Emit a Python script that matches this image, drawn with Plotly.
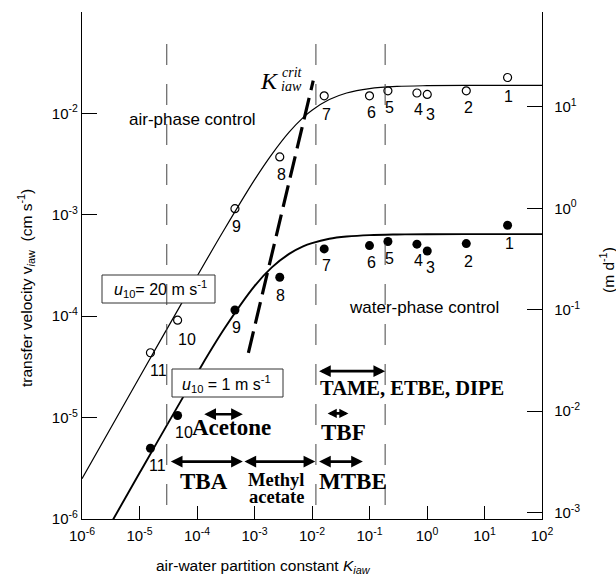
import numpy as np
import plotly.graph_objects as go

# ---------------- data ----------------
compound_ids = ["1", "2", "3", "4", "5", "6", "7", "8", "9", "10", "11"]
k_iaw = [25.2, 4.82, 1.01, 0.668, 0.209, 0.100, 0.0163, 2.75e-3, 4.57e-4, 4.6e-5, 1.55e-5]
v_u20 = [2.26e-2, 1.67e-2, 1.54e-2, 1.59e-2, 1.67e-2, 1.49e-2, 1.49e-2, 3.72e-3, 1.15e-3, 9.14e-5, 4.36e-5]
v_u1 = [7.88e-4, 5.2e-4, 4.4e-4, 5.13e-4, 5.45e-4, 4.97e-4, 4.61e-4, 2.42e-4, 1.15e-4, 1.05e-5, 4.98e-6]

# transfer-velocity curves (two-resistance model), sampled along K_iaw
curve_k = [1e-6, 1e-5, 1e-4, 3e-4, 1e-3, 2e-3, 4e-3, 7e-3, 1e-2, 2e-2, 4e-2, 1e-1, 3e-1, 1.0, 10.0, 100.0]
curve_u20 = [2.5e-6, 2.5e-5, 2.47e-4, 7.2e-4, 2.21e-3, 3.95e-3, 6.54e-3, 9.09e-3, 1.076e-2,
             1.37e-2, 1.59e-2, 1.757e-2, 1.844e-2, 1.876e-2, 1.889e-2, 1.89e-2]
curve_k_u1 = [3e-6, 1e-5, 1e-4, 3e-4, 1e-3, 2e-3, 4e-3, 7e-3, 1e-2, 2e-2, 4e-2, 1e-1, 3e-1, 1.0, 10.0, 100.0]
curve_u1 = [8.54e-7, 2.84e-6, 2.73e-5, 7.55e-5, 1.98e-4, 3.03e-4, 4.12e-4, 4.88e-4, 5.26e-4,
            5.8e-4, 6.1e-4, 6.31e-4, 6.40e-4, 6.44e-4, 6.45e-4, 6.45e-4]

# critical partition constant line
kcrit_k = [7.83e-4, 1.05e-2]
kcrit_v = [4.36e-5, 2.1e-2]

# boundaries between K_iaw classes
class_bounds = [2.98e-5, 1.17e-2, 0.187]

# compound ranges: (label, K from, K to, v level)
ranges = [
    ("Acetone", 1.26e-4, 6.27e-4, 1.08e-5),
    ("TBA", 3.3e-5, 6.27e-4, 3.68e-6),
    ("Methyl acetate", 6.3e-4, 1.14e-2, 3.68e-6),
    ("MTBE", 1.25e-2, 7.67e-2, 3.68e-6),
    ("TBF", 1.76e-2, 4.3e-2, 1.1e-5),
    ("TAME, ETBE, DIPE", 1.25e-2, 0.187, 2.87e-5),
]

x_ticks = [1e-6, 1e-5, 1e-4, 1e-3, 1e-2, 1e-1, 1, 10, 100]
x_ticktext = ["10<sup>-6</sup>", "10<sup>-5</sup>", "10<sup>-4</sup>", "10<sup>-3</sup>",
              "10<sup>-2</sup>", "10<sup>-1</sup>", "10<sup>0</sup>", "10<sup>1</sup>", "10<sup>2</sup>"]
y_ticks = [1e-6, 1e-5, 1e-4, 1e-3, 1e-2, 1e-1]
y_ticktext = ["10<sup>-6</sup>", "10<sup>-5</sup>", "10<sup>-4</sup>", "10<sup>-3</sup>", "10<sup>-2</sup>", " "]
y2_ticks = [1e-3, 1e-2, 1e-1, 1, 10]
y2_ticktext = ["10<sup>-3</sup>", "10<sup>-2</sup>", "10<sup>-1</sup>", "10<sup>0</sup>", "10<sup>1</sup>"]

CM_S_TO_M_D = 864.0

# ---------------- layout geometry ----------------
W, H = 616, 580
L, R, T, B = 82, 74, 12, 61
PW, PH = W - L - R, H - T - B

def paper(xp, yp):
    return (xp - L) / PW, (H - B - yp) / PH

SANS = "Liberation Sans, Arial, Helvetica, sans-serif"
SERIF = "Liberation Serif, Times New Roman, serif"

fig = go.Figure()

fig.add_trace(go.Scatter(x=curve_k, y=curve_u20, mode="lines", line=dict(color="black", width=1.2),
                         line_shape="spline", hoverinfo="skip", showlegend=False))
fig.add_trace(go.Scatter(x=curve_k_u1, y=curve_u1, mode="lines", line=dict(color="black", width=1.9),
                         line_shape="spline", hoverinfo="skip", showlegend=False))
fig.add_trace(go.Scatter(x=kcrit_k, y=kcrit_v, mode="lines",
                         line=dict(color="black", width=3.2, dash="22px,8px"),
                         hoverinfo="skip", showlegend=False))
fig.add_trace(go.Scatter(x=k_iaw, y=v_u20, mode="markers",
                         marker=dict(symbol="circle-open", size=8, color="black", line=dict(width=1.2)),
                         showlegend=False))
fig.add_trace(go.Scatter(x=k_iaw, y=v_u1, mode="markers",
                         marker=dict(symbol="circle", size=9, color="black"),
                         showlegend=False))
# the u10 = 20 m/s curve expressed in m/d, carried on the right-hand axis (drawn invisibly)
fig.add_trace(go.Scatter(x=curve_k, y=[v * CM_S_TO_M_D for v in curve_u20], yaxis="y2",
                         mode="lines", line=dict(color="rgba(0,0,0,0)", width=0),
                         hoverinfo="skip", showlegend=False))

# label offsets (pixels, right/down) for the compound numbers
off_u20 = [(1, 19), (2, 17), (3, 20), (2, 17), (2, 17), (2, 17), (2, 19), (2, 18), (2, 18), (9, 19), (8, 18)]
off_u1 = [(2, 18), (2, 18), (3, 17), (2, 16), (2, 17), (2, 17), (2, 17), (1, 18), (2, 17), (6, 17), (7, 17)]

ann = []
for lab, k, v, (dx, dy) in zip(compound_ids, k_iaw, v_u20, off_u20):
    ann.append(dict(x=np.log10(k), y=np.log10(v), xref="x", yref="y", text=lab, showarrow=False,
                    xshift=dx, yshift=-dy, font=dict(family=SANS, size=16, color="black")))
for lab, k, v, (dx, dy) in zip(compound_ids, k_iaw, v_u1, off_u1):
    ann.append(dict(x=np.log10(k), y=np.log10(v), xref="x", yref="y", text=lab, showarrow=False,
                    xshift=dx, yshift=-dy, font=dict(family=SANS, size=16, color="black")))

# double-headed range arrows
for lab, k0, k1, v in ranges:
    ann.append(dict(x=np.log10(k1), y=np.log10(v), ax=np.log10(k0), ay=np.log10(v),
                    xref="x", yref="y", axref="x", ayref="y", text="", showarrow=True,
                    arrowhead=2, arrowside="end+start", arrowsize=0.9 if lab != "TBF" else 0.7,
                    arrowwidth=2.6, arrowcolor="black", standoff=0, startstandoff=0))

def text_at(xp, yp, text, size, family=SANS, angle=0):
    px, py = paper(xp, yp)
    ann.append(dict(x=px, y=py, xref="paper", yref="paper", text=text, showarrow=False,
                    xanchor="center", yanchor="middle", textangle=angle,
                    font=dict(family=family, size=size, color="black")))

bold = 23
text_at(231, 427, "<b>Acetone</b>", bold, SERIF)
text_at(204, 481, "<b>TBA</b>", bold, SERIF)
text_at(276, 480, "<b>Methyl</b>", 18.5, SERIF)
text_at(276, 497, "<b>acetate</b>", 18.5, SERIF)
text_at(353, 481, "<b>MTBE</b>", bold, SERIF)
text_at(343, 432, "<b>TBF</b>", bold, SERIF)
text_at(412, 388, "<b>TAME, ETBE, DIPE</b>", 20.5, SERIF)

text_at(192, 120, "air-phase control", 17)
text_at(424, 307, "water-phase control", 17)

text_at(160, 289, "<i>u</i><sub>10</sub>= 20 m s<sup>-1</sup>", 16)
text_at(226, 384, "<i>u</i><sub>10</sub> = 1 m s<sup>-1</sup>", 16)

text_at(269, 81, "<i>K</i>", 24, SERIF)
text_at(292, 72, "<i>crit</i>", 14, SERIF)
text_at(291, 87, "<i>iaw</i>", 14, SERIF)

text_at(263, 566, "air-water partition constant <i>K</i><sub><i>iaw</i></sub>", 15.5)
text_at(26, 288, "transfer velocity v<sub><i>i</i>aw</sub>  (cm s<sup>-1</sup>)", 15.5, angle=-90)
text_at(607, 270, "(m d<sup>-1</sup>)", 15.5, angle=-90)

# boxes for wind-speed labels, then the class boundaries on top
shapes = []
for (x0, y0, x1, y1) in [(102, 275, 215, 303), (172, 369, 283, 397)]:
    px0, py0 = paper(x0, y1)
    px1, py1 = paper(x1, y0)
    shapes.append(dict(type="rect", xref="paper", yref="paper", x0=px0, y0=py0, x1=px1, y1=py1,
                       line=dict(color="#333333", width=1), fillcolor="white", layer="above"))
_, top_dash = paper(0, 44)
for kb in class_bounds:
    shapes.append(dict(type="line", xref="x", yref="paper", x0=kb, x1=kb, y0=top_dash, y1=0,
                       line=dict(color="#444444", width=1, dash="21px,19px"), layer="above"))

axis_font = dict(family=SANS, size=15, color="black")
fig.update_layout(
    width=W, height=H, margin=dict(l=L, r=R, t=T, b=B, pad=0, autoexpand=False),
    plot_bgcolor="white", paper_bgcolor="white", showlegend=False,
    annotations=ann, shapes=shapes,
    xaxis=dict(type="log", range=[-6, 2], tickvals=x_ticks, ticktext=x_ticktext,
               ticks="inside", ticklen=13, tickwidth=1.3, tickcolor="black", automargin=False,
               showline=True, linecolor="black", linewidth=1.3, mirror=False,
               showgrid=False, zeroline=False, tickfont=axis_font, ticklabelstandoff=3),
    yaxis=dict(type="log", range=[-6, -1], tickvals=y_ticks, ticktext=y_ticktext,
               ticks="inside", ticklen=15, tickwidth=1.3, tickcolor="black", automargin=False,
               showline=True, linecolor="black", linewidth=1.3, mirror=False,
               showgrid=False, zeroline=False, tickfont=axis_font),
    yaxis2=dict(type="log", overlaying="y", side="right", anchor="x",
                range=[np.log10(1e-6 * CM_S_TO_M_D), np.log10(1e-1 * CM_S_TO_M_D)],
                tickvals=y2_ticks, ticktext=y2_ticktext, automargin=False,
                ticks="inside", ticklen=15, tickwidth=1.3, tickcolor="black",
                showline=True, linecolor="black", linewidth=1.3,
                showgrid=False, zeroline=False, tickfont=axis_font, ticklabelstandoff=8),
)

fig.write_html("out.html")
